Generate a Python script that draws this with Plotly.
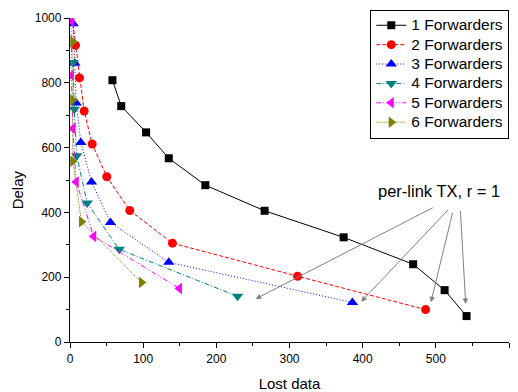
import plotly.graph_objects as go

# ---- data ----
names = ["1 Forwarders", "2 Forwarders", "3 Forwarders", "4 Forwarders", "5 Forwarders", "6 Forwarders"]

lost_1 = [58, 70, 104, 135, 185, 266, 374, 469, 512, 542]
delay_1 = [808, 728, 647, 567, 484, 405, 323, 240, 160, 80]

lost_2 = [2, 7.5, 13, 19.4, 30.3, 50.3, 81.7, 140, 311, 486]
delay_2 = [1017, 916, 815, 713, 611, 510, 406, 305, 203, 100]

lost_3 = [4.3, 6.6, 8.5, 14.8, 29.4, 55.3, 135, 386]
delay_3 = [982, 860, 738, 616, 494, 369, 246, 122]

lost_4 = [4.2, 5.8, 9.2, 23.5, 67.2, 229]
delay_4 = [863, 718, 575, 429, 286, 141]

lost_5 = [2.5, 1.8, 3.8, 8.5, 32.5, 149.6]
delay_5 = [990, 823, 659, 494, 326, 165]

lost_6 = [3.8, 3.8, 3.8, 15.7, 97.7]
delay_6 = [927, 747, 558, 371, 184]

x_ticks = [0, 100, 200, 300, 400, 500, 600]
y_ticks = [0, 200, 400, 600, 800, 1000]

x_title = "Lost data"
y_title = "Delay"
annotation_text = "per-link TX, r = 1"

# ---- styles ----
series = [
    (lost_1, delay_1, "#000000", "solid", "square", 8),
    (lost_2, delay_2, "#FF0000", "4px,2px", "circle", 9),
    (lost_3, delay_3, "#0000FF", "1px,2px", "triangle-up", 10),
    (lost_4, delay_4, "#008080", "5px,2px,1px,2px", "triangle-down", 10),
    (lost_5, delay_5, "#FF00FF", "5px,2px,1px,2px,1px,2px", "triangle-left", 10),
    (lost_6, delay_6, "#808000", "1px,1px", "triangle-right", 10),
]

FONT = "Arial, Liberation Sans, sans-serif"

fig = go.Figure()
for name, (xs, ys, col, dash, sym, size) in zip(names, series):
    fig.add_trace(go.Scatter(
        x=xs, y=ys, mode="lines+markers",
        name='<span style="font-size:15.5px">' + name + '</span>',
        line=dict(color=col, width=1, dash=dash),
        marker=dict(symbol=sym, size=size, color=col, line=dict(width=0)),
    ))

# annotation text
fig.add_annotation(x=504.8, y=466, xref="x", yref="y", text=annotation_text,
                   showarrow=False, font=dict(family=FONT, size=16.5, color="black"))

# arrows (tail -> head)
arrows = [
    ((498, 417), (253.7, 133)),
    ((518.7, 412.5), (398, 124.6)),
    ((523.4, 404), (493.3, 122.8)),
    ((533.5, 409.4), (540.8, 117.5)),
]
for (tx, ty), (hx, hy) in arrows:
    fig.add_annotation(x=hx, y=hy, ax=tx, ay=ty, xref="x", yref="y", axref="x", ayref="y",
                       text="", showarrow=True, arrowhead=2, arrowsize=1.1, arrowwidth=1,
                       arrowcolor="#808080", standoff=0, startstandoff=0)

# y-axis title placed as rotated annotation
fig.add_annotation(x=-0.12, y=0.469, xref="paper", yref="paper", text=y_title,
                   textangle=-90, showarrow=False, xanchor="center", yanchor="middle",
                   font=dict(family=FONT, size=15, color="black"))

axis_common = dict(
    showline=True, linecolor="black", linewidth=1.3, mirror=False,
    ticks="outside", ticklen=5, tickwidth=1.2, tickcolor="black",
    showgrid=False, zeroline=False,
    tickfont=dict(family=FONT, size=12, color="black"),
)

fig.update_xaxes(range=[0, 600], tickvals=x_ticks, ticktext=[str(v) for v in x_ticks],
                 minor=dict(ticks="outside", ticklen=3, dtick=50, tickcolor="black", tickwidth=1.2),
                 title=dict(text=x_title, font=dict(family=FONT, size=15, color="black"), standoff=14),
                 **axis_common)
fig.update_yaxes(range=[0, 1000], tickvals=y_ticks, ticktext=[str(v) for v in y_ticks],
                 minor=dict(ticks="outside", ticklen=3, dtick=100, tickcolor="black", tickwidth=1.2),
                 **axis_common)

fig.update_layout(
    width=518, height=392,
    margin=dict(l=69.5, r=9.4, t=18.3, b=50.3, autoexpand=False),
    paper_bgcolor="white", plot_bgcolor="white",
    font=dict(family=FONT, color="black"),
    legend=dict(x=0.684, y=1.026, xanchor="left", yanchor="top",
                bgcolor="white", bordercolor="black", borderwidth=1,
                font=dict(family=FONT, size=12.6, color="black"),
                tracegroupgap=0, itemwidth=30),
    showlegend=True,
)

fig.write_html("out.html", config={"displayModeBar": False},
               post_script="document.body.style.margin='0';")
